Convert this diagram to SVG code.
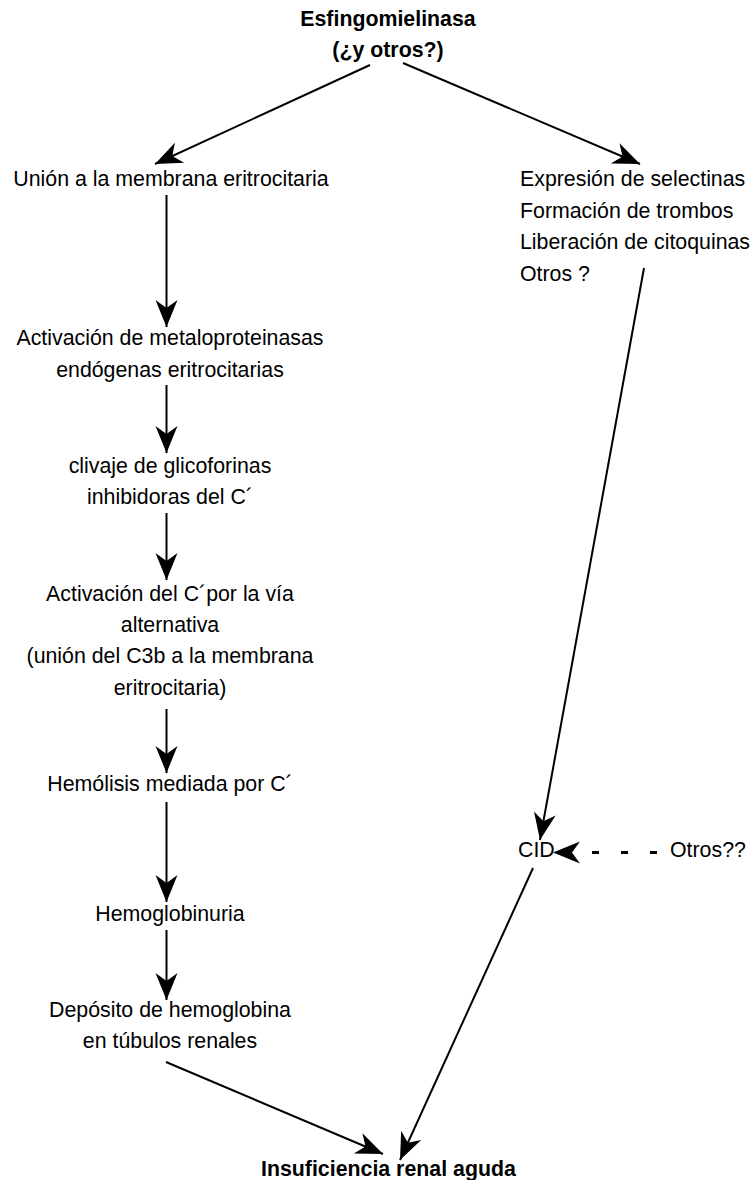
<svg xmlns="http://www.w3.org/2000/svg" width="753" height="1180" viewBox="0 0 753 1180">
<style>
text { font-family: "Liberation Sans", Arial, sans-serif; font-size: 21.33px; fill: #000; }
.b { font-weight: bold; }
.c { text-anchor: middle; }
.ln { stroke: #000; stroke-width: 2; fill: none; marker-end: url(#ah); }
.dash { stroke-width: 3; stroke-dasharray: 7 22; }
</style>
<defs>
<marker id="ah" markerUnits="userSpaceOnUse" orient="auto" refX="0" refY="0" viewBox="-28 -12 30 24" markerWidth="30" markerHeight="24" overflow="visible">
<path d="M0,0 L-27,-11 L-19,0 L-27,11 Z" fill="#000"/>
</marker>
</defs>
<rect width="753" height="1180" fill="#fff"/>
<g id="connectors">
<line class="ln" x1="370" y1="65" x2="155" y2="164"/>
<line class="ln" x1="403" y1="63" x2="640" y2="164"/>
<line class="ln" x1="166.5" y1="195" x2="166.5" y2="327"/>
<line class="ln" x1="166.5" y1="385" x2="166.5" y2="453"/>
<line class="ln" x1="166.5" y1="513" x2="166.5" y2="580"/>
<line class="ln" x1="166.5" y1="709" x2="166.5" y2="773"/>
<line class="ln" x1="166.5" y1="802" x2="166.5" y2="902"/>
<line class="ln" x1="166.5" y1="930" x2="166.5" y2="1000"/>
<line class="ln" x1="166" y1="1062" x2="383" y2="1154"/>
<line class="ln" x1="644" y1="268" x2="540" y2="840"/>
<line class="ln" x1="533" y1="868" x2="400" y2="1160"/>
<line class="ln dash" x1="657" y1="852.5" x2="553" y2="852.5"/>
</g>
<g id="n-esfingo"><text class="b c" x="388" y="26">Esfingomielinasa</text><text class="b c" x="388" y="57">(¿y otros?)</text></g>
<g id="n-union"><text class="c" x="171" y="186">Unión a la membrana eritrocitaria</text></g>
<g id="n-metalo"><text class="c" x="170" y="345">Activación de metaloproteinasas</text><text class="c" x="170" y="377">endógenas eritrocitarias</text></g>
<g id="n-clivaje"><text class="c" x="170" y="473">clivaje de glicoforinas</text><text class="c" x="170" y="504">inhibidoras del C´</text></g>
<g id="n-activacion"><text class="c" x="170" y="601">Activación del C´por la vía</text><text class="c" x="170" y="632">alternativa</text><text class="c" x="170" y="663">(unión del C3b a la membrana</text><text class="c" x="170" y="695">eritrocitaria)</text></g>
<g id="n-hemolisis"><text class="c" x="170" y="791">Hemólisis mediada por C´</text></g>
<g id="n-hemoglobinuria"><text class="c" x="170" y="921">Hemoglobinuria</text></g>
<g id="n-deposito"><text class="c" x="170" y="1017">Depósito de hemoglobina</text><text class="c" x="170" y="1048">en túbulos renales</text></g>
<g id="n-selectinas"><text x="520" y="186">Expresión de selectinas</text><text x="520" y="217.5">Formación de trombos</text><text x="520" y="249">Liberación de citoquinas</text><text x="520" y="281">Otros ?</text></g>
<g id="n-cid"><text x="518" y="857">CID</text></g>
<g id="n-otros"><text x="670" y="857">Otros??</text></g>
<g id="n-insuficiencia"><text class="b" x="261" y="1176">Insuficiencia renal aguda</text></g>
</svg>
